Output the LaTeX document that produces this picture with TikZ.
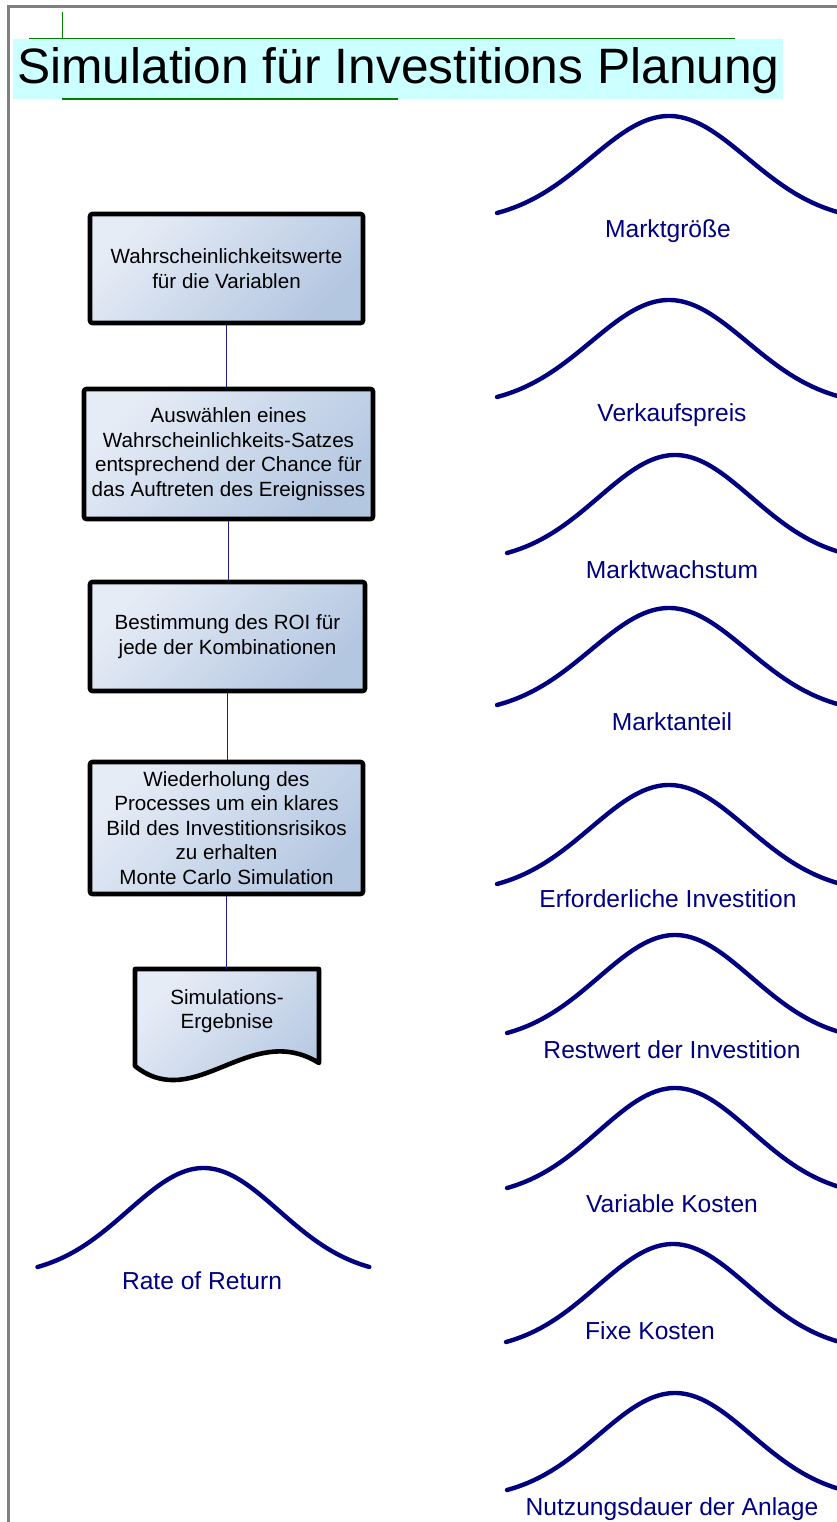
\documentclass[tikz,border=0pt]{standalone}
\usepackage{fontspec}
\setmainfont{Liberation Sans}
\definecolor{navyc}{HTML}{000080}
\definecolor{connc}{HTML}{1C1C8E}
\definecolor{framec}{HTML}{808080}
\definecolor{greenc}{HTML}{008000}
\definecolor{cyanc}{HTML}{CCFFFF}
\definecolor{boxlight}{HTML}{E6ECF6}
\definecolor{boxdark}{HTML}{B4C7E1}
\newcommand{\boxfont}{\fontsize{20.6}{24.5}\selectfont}
\newcommand{\curvefont}{\fontsize{24.6}{28}\selectfont}
\newcommand{\gausscurve}[4]{%
  \draw[curveline] plot[domain=-1:1,samples=90,smooth]
    ({#1+#3*\x},{#2-#4*(exp(-2.42*\x*\x)-0.0889)/0.9111});}
\begin{document}
\begin{tikzpicture}[x=1pt,y=-1pt,
  procbox/.style={draw=black, line width=4.6pt, rounded corners=2.5pt,
    top color=boxlight, bottom color=boxdark, shading angle=45,
    align=center, font=\boxfont, inner sep=0pt},
  docshape/.style={draw=black, line width=4.6pt, line join=round,
    top color=boxlight, bottom color=boxdark, shading angle=45},
  doctext/.style={align=center, font=\boxfont, inner sep=0pt},
  conn/.style={draw=connc, line width=1.5pt},
  curveline/.style={draw=navyc, line width=4.4pt, line cap=round},
  curvelabel/.style={text=navyc, font=\curvefont, anchor=base, inner sep=0pt},
  greenline/.style={draw=greenc, line width=1.3pt}]
\useasboundingbox (0,0) rectangle (837,1522);
\clip (0,0) rectangle (837,1522);
% frame
\draw[framec, line width=2.5pt] (8.5,1522) -- (8.5,6.7) -- (840,6.7);
% title
\fill[cyanc] (13,39) rectangle (783,99);
\draw[greenline] (29,38.3) -- (735,38.3);
\draw[greenline] (62.7,11.7) -- (62.7,38.3);
\draw[greenline, line width=2pt] (62,99.5) -- (398,99.5);
\node[anchor=base west, inner sep=0pt, font=\fontsize{49.7}{56}\selectfont] (title) at (17,83.3) {Simulation für Investitions Planung};
% process boxes
\node[procbox, minimum width=273pt, minimum height=109pt] (b1) at (226.5,268.5) {Wahrscheinlichkeitswerte\\für die Variablen};
\node[procbox, minimum width=289pt, minimum height=130pt] (b2) at (228.5,454) {Auswählen eines\\Wahrscheinlichkeits-Satzes\\entsprechend der Chance für\\das Auftreten des Ereignisses};
\node[procbox, minimum width=275pt, minimum height=109pt] (b3) at (227.5,636.5) {Bestimmung des ROI für\\jede der Kombinationen};
\node[procbox, minimum width=273pt, minimum height=132pt] (b4) at (226.5,828) {Wiederholung des\\Processes um ein klares\\Bild des Investitionsrisikos\\zu erhalten\\Monte Carlo Simulation};
% document shape
\path[docshape] (135,969) -- (319,969) -- (319,1063) .. controls (250,1020) and (195,1114) .. (135,1066) -- cycle;
\coordinate (doctop) at (227,969);
\node[doctext] (doc) at (227,1011) {Simulations-\\Ergebnise};
% connectors
\draw[conn] (b1.south) -- (b1.south |- b2.north);
\draw[conn] (b2.south) -- (b2.south |- b3.north);
\draw[conn] (b3.south) -- (b3.south |- b4.north);
\draw[conn] (b4.south) -- (b4.south |- doctop);
% curves
\gausscurve{203.5}{1267}{166}{99}
\node[curvelabel] (rr) at (202,1289.5) {Rate of Return};
\gausscurve{669}{213}{172}{97}
\node[curvelabel] (c1) at (668,237) {Marktgröße};
\gausscurve{669}{397}{172}{97}
\node[curvelabel] (c2) at (672,421) {Verkaufspreis};
\gausscurve{675}{553}{168}{98}
\node[curvelabel] (c3) at (672,578) {Marktwachstum};
\gausscurve{669}{705}{172}{97}
\node[curvelabel] (c4) at (672,730) {Marktanteil};
\gausscurve{669}{884}{172}{99}
\node[curvelabel] (c5) at (668,907.5) {Erforderliche Investition};
\gausscurve{675}{1033}{168}{98}
\node[curvelabel] (c6) at (672,1058) {Restwert der Investition};
\gausscurve{675}{1188}{168}{100}
\node[curvelabel] (c7) at (672,1212.5) {Variable Kosten};
\gausscurve{673}{1342}{167}{98}
\node[curvelabel] (c8) at (650,1339) {Fixe Kosten};
\gausscurve{675}{1490}{168}{97}
\node[curvelabel] (c9) at (672,1515) {Nutzungsdauer der Anlage};
\end{tikzpicture}
\end{document}
